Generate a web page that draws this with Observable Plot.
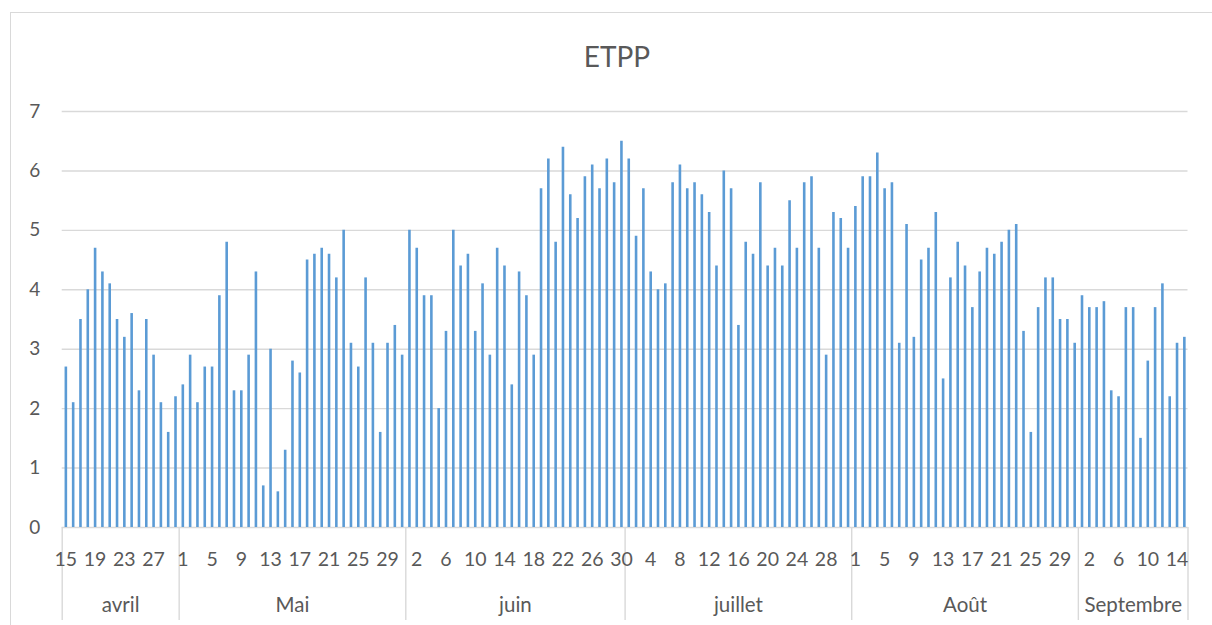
<!DOCTYPE html>
<html>
<head>
<meta charset="utf-8">
<script src="https://cdn.jsdelivr.net/npm/d3@7"></script>
<script src="https://cdn.jsdelivr.net/npm/@observablehq/plot@0.6"></script>
<style>
  html, body { margin: 0; padding: 0; background: #fff; width: 1212px; height: 625px; overflow: hidden; }
  #border { position: absolute; left: 10px; top: 12px; width: 1300px; height: 700px; border: 1px solid #d9d9d9; box-sizing: border-box; }
  #title { position: absolute; left: 0; top: 42px; width: 1234px; text-align: center; font-family: Lato, "Open Sans", sans-serif; font-size: 28px; line-height: 28px; color: #595959; }
  #chart { position: absolute; left: 0; top: 85px; }
</style>
</head>
<body>
<div id="border"></div>
<div id="title">ETPP</div>
<div id="chart"></div>
<script>
// ---- data ----
const months = ["avril", "Mai", "juin", "juillet", "Août", "Septembre"];
const firstDay = [15, 1, 1, 1, 1, 1];
const avril = [2.7, 2.1, 3.5, 4.0, 4.7, 4.3, 4.1, 3.5, 3.2, 3.6, 2.3, 3.5, 2.9, 2.1, 1.6, 2.2];
const mai = [2.4, 2.9, 2.1, 2.7, 2.7, 3.9, 4.8, 2.3, 2.3, 2.9, 4.3, 0.7, 3.0, 0.6, 1.3, 2.8, 2.6, 4.5, 4.6, 4.7, 4.6, 4.2, 5.0, 3.1, 2.7, 4.2, 3.1, 1.6, 3.1, 3.4, 2.9];
const juin = [5.0, 4.7, 3.9, 3.9, 2.0, 3.3, 5.0, 4.4, 4.6, 3.3, 4.1, 2.9, 4.7, 4.4, 2.4, 4.3, 3.9, 2.9, 5.7, 6.2, 4.8, 6.4, 5.6, 5.2, 5.9, 6.1, 5.7, 6.2, 5.8, 6.5];
const juillet = [6.2, 4.9, 5.7, 4.3, 4.0, 4.1, 5.8, 6.1, 5.7, 5.8, 5.6, 5.3, 4.4, 6.0, 5.7, 3.4, 4.8, 4.6, 5.8, 4.4, 4.7, 4.4, 5.5, 4.7, 5.8, 5.9, 4.7, 2.9, 5.3, 5.2, 4.7];
const aout = [5.4, 5.9, 5.9, 6.3, 5.7, 5.8, 3.1, 5.1, 3.2, 4.5, 4.7, 5.3, 2.5, 4.2, 4.8, 4.4, 3.7, 4.3, 4.7, 4.6, 4.8, 5.0, 5.1, 3.3, 1.6, 3.7, 4.2, 4.2, 3.5, 3.5, 3.1];
const septembre = [3.9, 3.7, 3.7, 3.8, 2.3, 2.2, 3.7, 3.7, 1.5, 2.8, 3.7, 4.1, 2.2, 3.1, 3.2];
const yTicks = [0, 1, 2, 3, 4, 5, 6, 7];
const title = "ETPP";

// ---- build table ----
const monthValues = [avril, mai, juin, juillet, aout, septembre];
const rows = [];
const monthSpans = [];
let idx = 0;
monthValues.forEach((vals, m) => {
  const start = idx;
  vals.forEach((v, k) => {
    rows.push({i: idx, day: firstDay[m] + k, v, month: months[m]});
    idx++;
  });
  monthSpans.push({name: months[m], first: start, last: idx - 1});
});
const n = rows.length;
const dayLabels = rows.filter(d => d.i % 4 === 0);
const boundaries = [-0.5, ...monthSpans.map(s => s.last + 0.5)];

document.getElementById("title").textContent = title;

const chart = Plot.plot({
  width: 1212,
  height: 540,
  marginTop: 26,
  marginBottom: 98,
  marginLeft: 61.7,
  marginRight: 24.5,
  style: {fontFamily: "Lato, 'Open Sans', sans-serif", color: "#595959", background: "transparent", overflow: "visible"},
  x: {type: "linear", domain: [-0.5, n - 0.5]},
  y: {domain: [0, 7]},
  marks: [
    Plot.ruleY(yTicks, {stroke: "#d9d9d9", strokeWidth: 1.4}),
    Plot.ruleX(rows, {x: "i", y1: 0, y2: "v", stroke: "#5b9bd5", strokeWidth: 2.6}),
    Plot.axisY({ticks: yTicks, tickSize: 0, tickPadding: 22, fontSize: 19, fill: "#595959", tickFormat: d3.format("d"), label: null}),
    Plot.axisX({ticks: boundaries, tickSize: 93, tickFormat: () => "", stroke: "#d9d9d9", strokeWidth: 1.4, strokeOpacity: 1, label: null}),
    Plot.text(dayLabels, {x: "i", text: d => String(d.day), frameAnchor: "bottom", lineAnchor: "middle", dy: 32, fontSize: 19.5, fill: "#595959"}),
    Plot.text(monthSpans, {x: d => (d.first + d.last) / 2, text: "name", frameAnchor: "bottom", lineAnchor: "middle", dy: 78, fontSize: 20.5, fill: "#595959"})
  ]
});
document.getElementById("chart").appendChild(chart);
</script>
</body>
</html>
